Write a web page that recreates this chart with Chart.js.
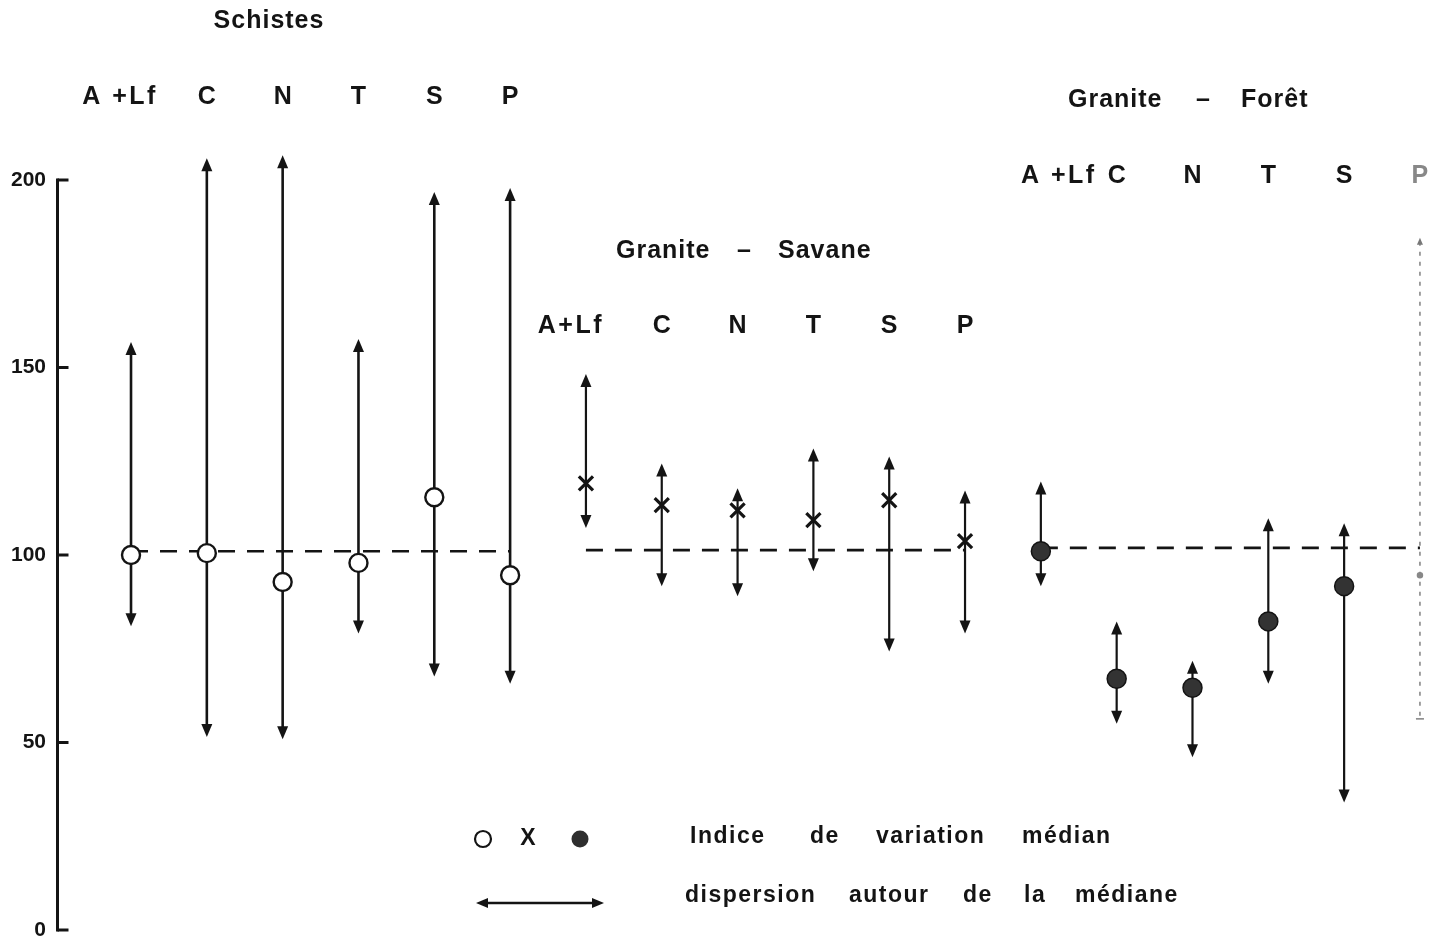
<!DOCTYPE html>
<html lang="fr">
<head>
<meta charset="UTF-8">
<title>Indice de variation médian</title>
<script src="https://cdn.jsdelivr.net/npm/chart.js@4.4.1/dist/chart.umd.min.js"></script>
<style>
  html, body { margin: 0; padding: 0; background: #fff; }
  .chart-box { position: relative; width: 1448px; height: 937px; }
</style>
</head>
<body>
<div class="chart-box"><canvas id="chart" width="1448" height="937"></canvas></div>
<script>
// column labels for each site
const schistesLabels = ['A +Lf', 'C', 'N', 'T', 'S', 'P'];
const savaneLabels = ['A+Lf', 'C', 'N', 'T', 'S', 'P'];
const foretLabels = ['A +Lf', 'C', 'N', 'T', 'S', 'P'];

// Schistes : median index and dispersion
const schistesMedian = [100, 100.5, 92.8, 97.9, 115.4, 94.6];
const schistesHigh = [156.8, 205.8, 206.6, 157.6, 196.8, 197.9];
const schistesLow = [81.0, 51.5, 50.9, 79.1, 67.6, 65.7];

// Granite - Savane
const savaneMedian = [119.1, 113.3, 111.9, 109.3, 114.6, 103.7];
const savaneHigh = [148.3, 124.4, 117.8, 128.4, 126.3, 117.2];
const savaneLow = [107.2, 91.7, 89.0, 95.7, 74.3, 79.1];

// Granite - Foret
const foretMedian = [101.0, 67.0, 64.6, 82.3, 91.7, 94.6];
const foretHigh = [119.6, 82.3, 71.8, 109.8, 108.5, 184.6];
const foretLow = [91.7, 55.0, 46.1, 65.7, 34.0, 56.3];

// dashed reference level (100) of each site
const referenceLevel = [101.0, 101.3, 101.9];
const yTicks = [0, 50, 100, 150, 200];

const ink = '#141414';
const boldFont = (size) => 'bold ' + size + 'px "Liberation Sans", Arial, sans-serif';

const groups = [
  { start: 0, labels: schistesLabels, median: schistesMedian, high: schistesHigh, low: schistesLow },
  { start: 6, labels: savaneLabels, median: savaneMedian, high: savaneHigh, low: savaneLow },
  { start: 12, labels: foretLabels, median: foretMedian, high: foretHigh, low: foretLow }
];

function pts(g, values) {
  return values.map((v, i) => ({ x: g.start + i, y: v }));
}

function refLine(g, k) {
  return [{ x: g.start, y: referenceLevel[k] }, { x: g.start + 5, y: referenceLevel[k] }];
}

function head(ctx, x, y, dir, len, half) {
  // dir -1 points up, +1 points down
  ctx.beginPath();
  ctx.moveTo(x, y);
  ctx.lineTo(x - half, y - dir * len);
  ctx.lineTo(x + half, y - dir * len);
  ctx.closePath();
  ctx.fill();
}

// faint last column of the foret group
const isFaint = (g, i) => g.start === 12 && i === 5;

const dispersionPlugin = {
  id: 'dispersion',
  beforeDatasetsDraw(chart) {
    const ctx = chart.ctx;
    const xs = chart.scales.x, ys = chart.scales.y;
    ctx.save();
    groups.forEach(g => {
      g.high.forEach((hi, i) => {
        const x = xs.getPixelForValue(g.start + i);
        const yH = ys.getPixelForValue(hi);
        const yL = ys.getPixelForValue(g.low[i]);
        if (isFaint(g, i)) {
          ctx.strokeStyle = '#777';
          ctx.fillStyle = '#777';
          ctx.lineWidth = 1.4;
          ctx.setLineDash([4, 6]);
          ctx.beginPath();
          ctx.moveTo(x, yH + 4);
          ctx.lineTo(x, yL);
          ctx.stroke();
          ctx.setLineDash([]);
          head(ctx, x, yH, -1, 7, 3);
          ctx.beginPath();
          ctx.moveTo(x - 4, yL); ctx.lineTo(x + 4, yL);
          ctx.stroke();
          return;
        }
        const w = g.start === 0 ? 2.6 : 2.2;
        ctx.strokeStyle = ink;
        ctx.fillStyle = ink;
        ctx.lineWidth = w;
        ctx.beginPath();
        ctx.moveTo(x, yH + 8);
        ctx.lineTo(x, yL - 8);
        ctx.stroke();
        head(ctx, x, yH, -1, 13, 5.5);
        head(ctx, x, yL, 1, 13, 5.5);
      });
    });
    ctx.restore();
  }
};

const axisPlugin = {
  id: 'leftAxis',
  afterDraw(chart) {
    const ctx = chart.ctx;
    const ys = chart.scales.y;
    const x = chart.chartArea.left - 0.5;
    ctx.save();
    ctx.strokeStyle = ink;
    ctx.lineWidth = 3;
    ctx.beginPath();
    ctx.moveTo(x, ys.getPixelForValue(200) - 1.5);
    ctx.lineTo(x, ys.getPixelForValue(0) + 1.5);
    ctx.stroke();
    yTicks.forEach(v => {
      const y = ys.getPixelForValue(v);
      ctx.beginPath();
      ctx.moveTo(x, y);
      ctx.lineTo(x + 11, y);
      ctx.stroke();
    });
    ctx.restore();
  }
};

function word(ctx, text, x, y, size, spacing) {
  ctx.font = boldFont(size);
  ctx.letterSpacing = (spacing || 0) + 'px';
  ctx.fillText(text, x, y);
  ctx.letterSpacing = '0px';
}

const textPlugin = {
  id: 'texts',
  afterDraw(chart) {
    const ctx = chart.ctx;
    const xs = chart.scales.x;
    ctx.save();
    ctx.fillStyle = ink;
    ctx.textBaseline = 'middle';

    // site titles
    ctx.textAlign = 'center';
    word(ctx, 'Schistes', 269, 21, 25, 1);
    ctx.textAlign = 'left';
    word(ctx, 'Granite', 1068, 100, 25, 1);
    word(ctx, '\u2013', 1196, 100, 25, 0);
    word(ctx, 'Forêt', 1241, 100, 25, 1);
    word(ctx, 'Granite', 616, 251, 25, 1);
    word(ctx, '\u2013', 737, 251, 25, 0);
    word(ctx, 'Savane', 778, 251, 25, 1);

    // column labels
    ctx.textAlign = 'center';
    const rows = [
      { y: 97, shift: -11 },
      { y: 326, shift: -15 },
      { y: 176, shift: 18 }
    ];
    groups.forEach((g, k) => {
      g.labels.forEach((lab, i) => {
        const x = xs.getPixelForValue(g.start + i) + (i === 0 ? rows[k].shift : 0);
        ctx.fillStyle = isFaint(g, i) ? '#888' : ink;
        word(ctx, lab, x, rows[k].y, 25, i === 0 ? 2.5 : 0);
      });
    });
    ctx.fillStyle = ink;

    // legend symbols
    ctx.lineWidth = 2.2;
    ctx.strokeStyle = ink;
    ctx.beginPath();
    ctx.arc(483, 839, 8, 0, Math.PI * 2);
    ctx.stroke();
    ctx.textAlign = 'center';
    word(ctx, 'X', 528, 839, 23, 0);
    ctx.fillStyle = '#2e2e2e';
    ctx.beginPath();
    ctx.arc(580, 839, 8.5, 0, Math.PI * 2);
    ctx.fill();
    ctx.fillStyle = ink;

    ctx.lineWidth = 2.4;
    ctx.beginPath();
    ctx.moveTo(484, 903);
    ctx.lineTo(596, 903);
    ctx.stroke();
    ctx.beginPath();
    ctx.moveTo(476, 903); ctx.lineTo(488, 898); ctx.lineTo(488, 908); ctx.closePath(); ctx.fill();
    ctx.beginPath();
    ctx.moveTo(604, 903); ctx.lineTo(592, 898); ctx.lineTo(592, 908); ctx.closePath(); ctx.fill();

    // legend text
    ctx.textAlign = 'left';
    word(ctx, 'Indice', 690, 837, 23, 1.5);
    word(ctx, 'de', 810, 837, 23, 1.5);
    word(ctx, 'variation', 876, 837, 23, 1.5);
    word(ctx, 'médian', 1022, 837, 23, 1.5);
    word(ctx, 'dispersion', 685, 896, 23, 1.5);
    word(ctx, 'autour', 849, 896, 23, 1.5);
    word(ctx, 'de', 963, 896, 23, 1.5);
    word(ctx, 'la', 1024, 896, 23, 1.5);
    word(ctx, 'médiane', 1075, 896, 23, 1.5);
    ctx.restore();
  }
};

const dashStyle = {
  type: 'line',
  borderColor: ink,
  borderWidth: 2.6,
  borderDash: [17, 12],
  pointRadius: 0,
  fill: false,
  clip: false,
  order: 5
};

new Chart(document.getElementById('chart'), {
  type: 'scatter',
  data: {
    datasets: [
      Object.assign({ data: refLine(groups[0], 0) }, dashStyle),
      Object.assign({ data: refLine(groups[1], 1) }, dashStyle),
      Object.assign({ data: refLine(groups[2], 2) }, dashStyle),
      {
        label: 'Schistes',
        data: pts(groups[0], schistesMedian),
        pointStyle: 'circle',
        pointRadius: 9,
        backgroundColor: '#fff',
        borderColor: ink,
        borderWidth: 2.4,
        clip: false,
        order: 1
      },
      {
        label: 'Granite - Savane',
        data: pts(groups[1], savaneMedian),
        pointStyle: 'crossRot',
        pointRadius: 10,
        borderColor: ink,
        borderWidth: 3.2,
        clip: false,
        order: 1
      },
      {
        label: 'Granite - Forêt',
        data: pts(groups[2], foretMedian),
        pointStyle: 'circle',
        pointRadius: (c) => c.dataIndex === 5 ? 2.5 : 9.5,
        backgroundColor: (c) => c.dataIndex === 5 ? '#888' : '#333',
        borderColor: (c) => c.dataIndex === 5 ? '#888' : ink,
        borderWidth: 1.5,
        clip: false,
        order: 1
      }
    ]
  },
  options: {
    responsive: false,
    animation: false,
    layout: { autoPadding: false, padding: { left: 0, right: 0, top: 0, bottom: 7 } },
    plugins: { legend: { display: false }, tooltip: { enabled: false } },
    scales: {
      x: { type: 'linear', display: false, min: -0.963, max: 17.37 },
      y: {
        type: 'linear',
        min: 0,
        max: 248,
        afterFit(s) { s.width = 58; s.paddingTop = 0; s.paddingBottom = 0; },
        afterBuildTicks(s) { s.ticks = yTicks.map(v => ({ value: v })); },
        grid: { display: false },
        border: { display: false },
        ticks: {
          padding: 4,
          color: ink,
          font: { family: '"Liberation Sans", Arial, sans-serif', weight: 'bold', size: 21 }
        }
      }
    }
  },
  plugins: [dispersionPlugin, axisPlugin, textPlugin]
});
</script>
</body>
</html>
